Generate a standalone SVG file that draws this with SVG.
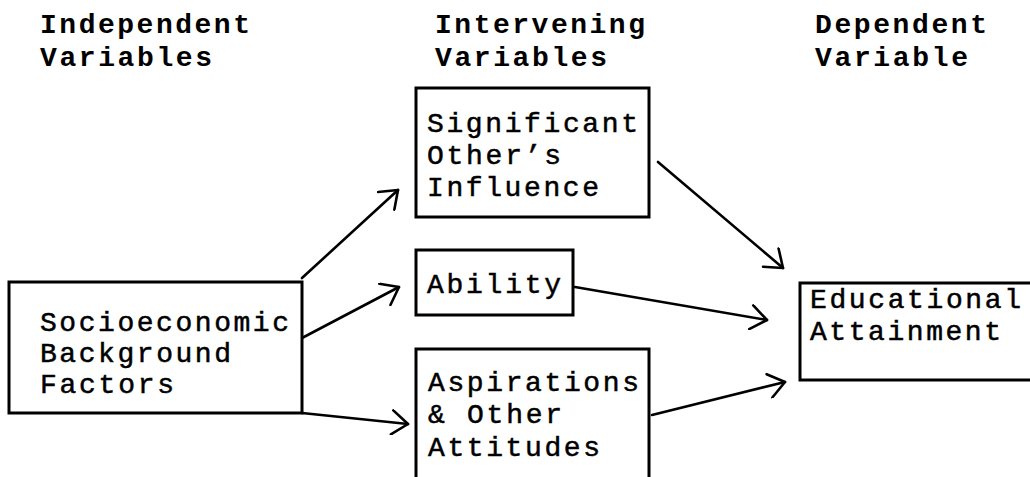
<svg xmlns="http://www.w3.org/2000/svg" width="1030" height="477" viewBox="0 0 1030 477">
<style>
.hd{font-family:"Liberation Mono","Courier New",monospace;font-size:28px;font-weight:bold;fill:#000}
.tx{font-family:"Liberation Mono","Courier New",monospace;font-size:28px;fill:#000;stroke:#000;stroke-width:0.5}
.box{fill:#fff;stroke:#000;stroke-width:3}
.ar{fill:none;stroke:#000;stroke-width:2.6;stroke-linecap:round;marker-end:url(#v)}
</style>
<defs>
<marker id="v" markerUnits="userSpaceOnUse" viewBox="0 0 20 26" refX="18" refY="13" markerWidth="20" markerHeight="26" orient="auto">
<path d="M2,1 L18,13 L2,25" fill="none" stroke="#000" stroke-width="2.6" stroke-linecap="round" stroke-linejoin="round"/>
</marker>
</defs>
<g id="headers">
<text class="hd" x="40" y="33" textLength="210" lengthAdjust="spacing">Independent</text>
<text class="hd" x="40" y="66" textLength="172" lengthAdjust="spacing">Variables</text>
<text class="hd" x="435" y="33" textLength="210" lengthAdjust="spacing">Intervening</text>
<text class="hd" x="435" y="66" textLength="172" lengthAdjust="spacing">Variables</text>
<text class="hd" x="815" y="33" textLength="172" lengthAdjust="spacing">Dependent</text>
<text class="hd" x="815" y="66" textLength="153" lengthAdjust="spacing">Variable</text>
</g>
<g id="connectors">
<path class="ar" d="M302,278 L398,190"/>
<path class="ar" d="M302,338 L399,287"/>
<path class="ar" d="M302,413 L408,424"/>
<path class="ar" d="M658,162 L783,268"/>
<path class="ar" d="M575,287 L767,320"/>
<path class="ar" d="M652,415 L785,382"/>
</g>
<g id="socioeconomic">
<rect class="box" x="9" y="282" width="293" height="131"/>
<text class="tx" x="40" y="331" textLength="249" lengthAdjust="spacing">Socioeconomic</text>
<text class="tx" x="40" y="362" textLength="191" lengthAdjust="spacing">Background</text>
<text class="tx" x="40" y="393" textLength="134" lengthAdjust="spacing">Factors</text>
</g>
<g id="significant">
<rect class="box" x="416" y="88" width="233" height="129"/>
<text class="tx" x="427" y="132" textLength="211" lengthAdjust="spacing">Significant</text>
<text class="tx" x="427" y="164" textLength="134" lengthAdjust="spacing">Other’s</text>
<text class="tx" x="427" y="196" textLength="172" lengthAdjust="spacing">Influence</text>
</g>
<g id="ability">
<rect class="box" x="416" y="250" width="157" height="65"/>
<text class="tx" x="427" y="293" textLength="134" lengthAdjust="spacing">Ability</text>
</g>
<g id="aspirations">
<rect class="box" x="416" y="349" width="233" height="140"/>
<text class="tx" x="428" y="391" textLength="211" lengthAdjust="spacing">Aspirations</text>
<text class="tx" x="428" y="423" textLength="134" lengthAdjust="spacing">&amp; Other</text>
<text class="tx" x="428" y="456" textLength="172" lengthAdjust="spacing">Attitudes</text>
</g>
<g id="educational">
<rect class="box" x="800" y="283" width="240" height="97"/>
<text class="tx" x="810" y="308" textLength="211" lengthAdjust="spacing">Educational</text>
<text class="tx" x="810" y="340" textLength="191" lengthAdjust="spacing">Attainment</text>
</g>
</svg>
